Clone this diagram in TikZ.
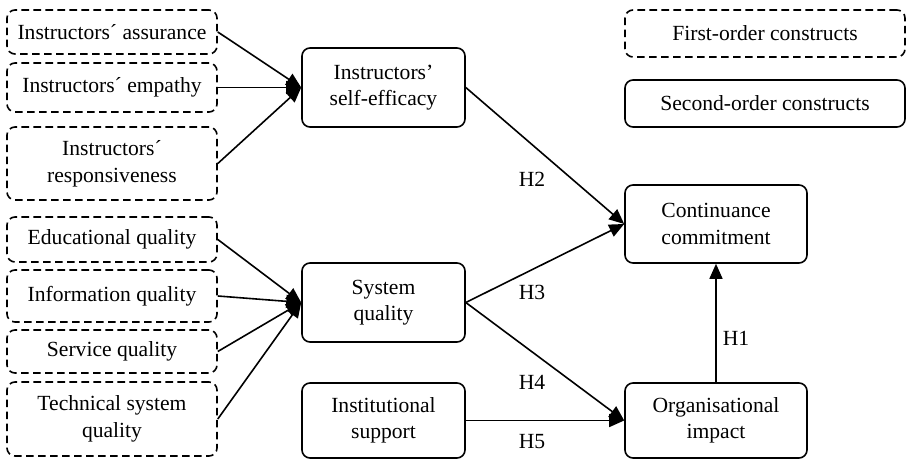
\documentclass[tikz,border=0pt]{standalone}
\usepackage{fontspec}
\setmainfont{Liberation Serif}
\usepackage{tikz}
\usetikzlibrary{arrows.meta}
\tikzset{
  firstbox/.style={draw, dashed, dash pattern=on 3.8pt off 2.2pt, line width=.8pt, rounded corners=4pt, align=center, inner sep=1pt},
  secondbox/.style={draw, line width=.8pt, rounded corners=4pt, align=center, inner sep=1pt},
  hyp/.style={inner sep=0pt},
  link/.style={line width=.8pt, -{Triangle[length=7.5pt,width=6.5pt]}}
}

\begin{document}
\begin{tikzpicture}[x=.5pt, y=-.5pt, font=\fontsize{10.8}{13.3}\selectfont]
\useasboundingbox (0,0) rectangle (907,460);

% first-order constructs
\node[firstbox, minimum width=105pt, minimum height=22pt] (assur) at (112,32) {Instructors´ assurance};
\node[firstbox, minimum width=105pt, minimum height=24.5pt] (empath) at (112,87.5) {Instructors´ empathy};
\node[firstbox, minimum width=105pt, minimum height=36.5pt] (respons) at (112,163.5) {Instructors´\\responsiveness};
\node[firstbox, minimum width=105pt, minimum height=22.5pt] (eduq) at (112,239.5) {Educational quality};
\node[firstbox, minimum width=105pt, minimum height=26pt] (infoq) at (112,296) {Information quality};
\node[firstbox, minimum width=105pt, minimum height=21.5pt] (servq) at (112,351.5) {Service quality};
\node[firstbox, minimum width=105pt, minimum height=37pt] (techq) at (112,419) {Technical system\\quality};

% second-order constructs
\node[secondbox, minimum width=81.5pt, minimum height=39.5pt] (selfeff) at (383.5,87.5) {Instructors’\\self-efficacy};
\node[secondbox, minimum width=81.5pt, minimum height=39.5pt] (sysq) at (383.5,302.5) {System\\quality};
\node[secondbox, minimum width=81.5pt, minimum height=37.5pt] (inst) at (383.5,420.5) {Institutional\\support};
\node[secondbox, minimum width=91pt, minimum height=39pt] (cont) at (716,224) {Continuance\\commitment};
\node[secondbox, minimum width=91pt, minimum height=37.5pt] (org) at (716,420.5) {Organisational\\impact};

% legend
\node[firstbox, minimum width=140pt, minimum height=23.5pt] (legfirst) at (765,33.5) {First-order constructs};
\node[secondbox, minimum width=140pt, minimum height=23.5pt] (legsecond) at (765,103.5) {Second-order constructs};

\draw[link] (assur.east) -- (selfeff.west);
\draw[link] (empath.east) -- (selfeff.west);
\draw[link] (respons.east) -- (selfeff.west);

\draw[link] (eduq.east) -- (sysq.west);
\draw[link] (infoq.east) -- (sysq.west);
\draw[link] (servq.east) -- (sysq.west);
\draw[link] (techq.east) -- (sysq.west);

\draw[link] (selfeff.east) -- (cont.west);
\draw[link] (sysq.east) -- (cont.west);
\draw[link] (sysq.east) -- (org.west);
\draw[link] (inst.east) -- (org.west);
\draw[link] (org.north) -- (cont.south);

\node[hyp] (h1) at (736,338) {H1};
\node[hyp] (h2) at (532,179) {H2};
\node[hyp] (h3) at (532,292) {H3};
\node[hyp] (h4) at (532,382) {H4};
\node[hyp] (h5) at (532,442) {H5};
\end{tikzpicture}
\end{document}
